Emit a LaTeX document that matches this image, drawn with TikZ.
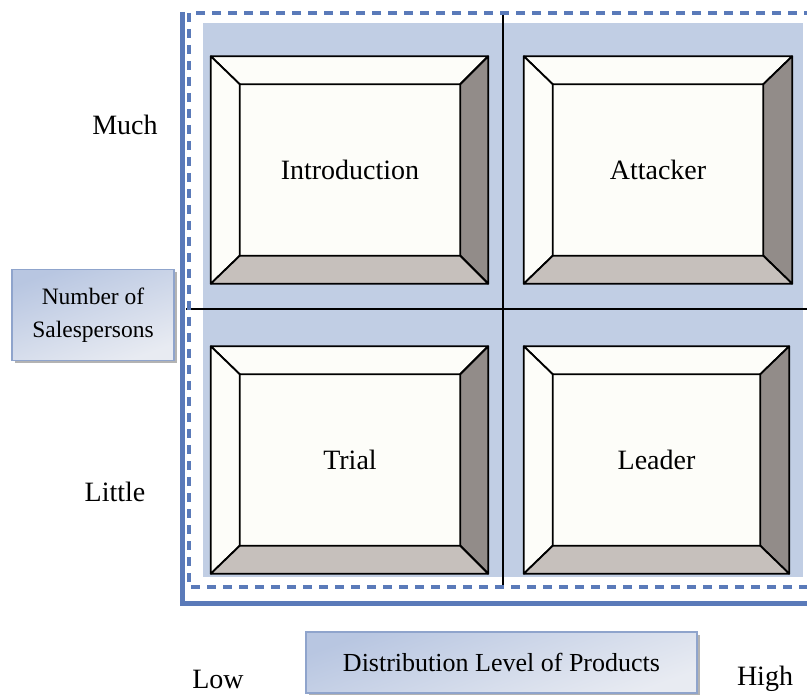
\documentclass[tikz,border=0pt]{standalone}
\usepackage{fontspec}
\setmainfont{Liberation Serif}
\usetikzlibrary{positioning,shadows}
\definecolor{frameblue}{RGB}{90,122,185}
\definecolor{fieldblue}{RGB}{193,206,228}
\definecolor{facelight}{RGB}{253,253,249}
\definecolor{facedark}{RGB}{146,140,137}
\definecolor{facelow}{RGB}{198,192,188}
\definecolor{tagedge}{RGB}{143,164,204}
\definecolor{tagtop}{RGB}{184,198,225}
\definecolor{tagbot}{RGB}{232,235,242}
\tikzset{
outerbox/.style={
  minimum width=#1,
  minimum height=227pt,
  inner sep=0pt
  },
innerbox/.style={
  minimum width=#1,
  minimum height=171pt,
  inner sep=0pt,
  fill=facelight,
  font=\fontsize{28}{32}\selectfont
  },
face/.style={
  fill=#1,
  draw=black,
  line width=1.8pt,
  line join=round
  },
tagbox/.style={
  draw=tagedge,
  line width=1.5pt,
  top color=tagtop,
  bottom color=tagbot,
  shading angle=20,
  drop shadow={shadow xshift=3pt,shadow yshift=-3pt,fill=gray,opacity=.6},
  align=center
  },
axislabel/.style={
  font=\fontsize{28}{32}\selectfont
  }
}

\begin{document}
\begin{tikzpicture}[x=1pt,y=-1pt]
\useasboundingbox (0,0) rectangle (807,695);

% field and quadrant lines
\fill[fieldblue] (203,23) rectangle (803,577);
\draw[line width=1.5pt] (503,13) -- (503,587);
\draw[line width=1.5pt] (186,309) -- (812,309);

% frame
\draw[frameblue,line width=3.2pt,dash pattern=on 9pt off 7pt]
  (189,13) rectangle (815,587);
\draw[frameblue,line width=5pt] (182,12) -- (182,603) -- (815,603);

% bevel boxes
\node[outerbox=277pt] (outer1) at (349.5,170) {};
\node[outerbox=268pt] (outer2) at (658,170) {};
\node[outerbox=277pt] (outer3) at (349.5,460) {};
\node[outerbox=265pt] (outer4) at (656.5,460) {};

\node[innerbox=220pt] (inner1) at (350,170) {Introduction};
\node[innerbox=210pt] (inner2) at (658,170) {Attacker};
\node[innerbox=220pt] (inner3) at (350,460) {Trial};
\node[innerbox=207pt] (inner4) at (656.5,460) {Leader};

\foreach \i in {1,...,4}{
  \filldraw[face=facelight]
    (outer\i.north west) -- (outer\i.north east)
    -- (inner\i.north east) -- (inner\i.north west) -- cycle;
  \filldraw[face=facelight]
    (outer\i.north west) -- (inner\i.north west)
    -- (inner\i.south west) -- (outer\i.south west) -- cycle;
  \filldraw[face=facedark]
    (outer\i.north east) -- (outer\i.south east)
    -- (inner\i.south east) -- (inner\i.north east) -- cycle;
  \filldraw[face=facelow]
    (outer\i.south west) -- (inner\i.south west)
    -- (inner\i.south east) -- (outer\i.south east) -- cycle;
}

% axis labels
\node[axislabel] (much) at (125,125) {Much};
\node[axislabel] (little) at (115,492) {Little};
\node[axislabel] (low) at (218,679) {Low};
\node[axislabel] (high) at (765,679) {High};

\node[tagbox,minimum width=162pt,minimum height=91pt,
  font=\fontsize{23.5}{33}\selectfont] (sales) at (93,315)
  {Number of\\Salespersons};
\node[tagbox,minimum width=391pt,minimum height=61pt,
  font=\fontsize{26}{30}\selectfont] (dist) at (501.5,662.5)
  {Distribution Level of Products};
\end{tikzpicture}
\end{document}
